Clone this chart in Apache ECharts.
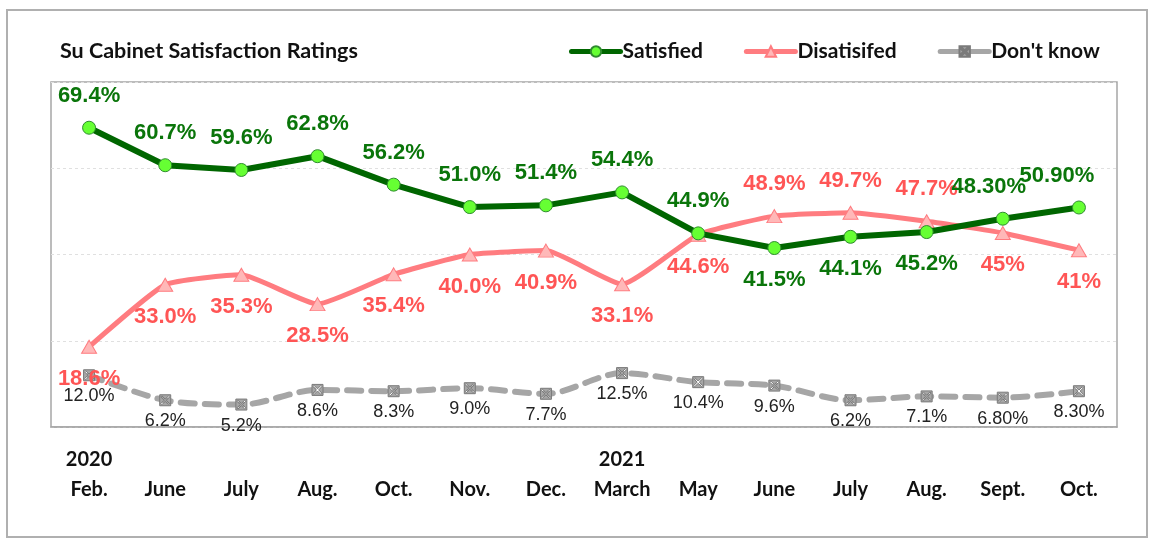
<!DOCTYPE html>
<html>
<head>
<meta charset="utf-8">
<script src="https://cdn.jsdelivr.net/npm/echarts@6/dist/echarts.min.js"></script>
<style>
html, body { margin: 0; padding: 0; background: #fff; }
#main { width: 1155px; height: 541px; }
</style>
</head>
<body>
<div id="main"></div>
<script>
// 数据
const months = ['Feb.', 'June', 'July', 'Aug.', 'Oct.', 'Nov.', 'Dec.', 'March', 'May', 'June', 'July', 'Aug.', 'Sept.', 'Oct.']
const years = ['2020', '', '', '', '', '', '', '2021', '', '', '', '', '', '']
const satisfied = [69.4, 60.7, 59.6, 62.8, 56.2, 51.0, 51.4, 54.4, 44.9, 41.5, 44.1, 45.2, 48.3, 50.9]
const satisfiedText = ['69.4%', '60.7%', '59.6%', '62.8%', '56.2%', '51.0%', '51.4%', '54.4%', '44.9%', '41.5%', '44.1%', '45.2%', '48.30%', '50.90%']
const dissatisfied = [18.6, 33.0, 35.3, 28.5, 35.4, 40.0, 40.9, 33.1, 44.6, 48.9, 49.7, 47.7, 45, 41]
const dissatisfiedText = ['18.6%', '33.0%', '35.3%', '28.5%', '35.4%', '40.0%', '40.9%', '33.1%', '44.6%', '48.9%', '49.7%', '47.7%', '45%', '41%']
const dontKnow = [12.0, 6.2, 5.2, 8.6, 8.3, 9.0, 7.7, 12.5, 10.4, 9.6, 6.2, 7.1, 6.8, 8.3]
const dontKnowText = ['12.0%', '6.2%', '5.2%', '8.6%', '8.3%', '9.0%', '7.7%', '12.5%', '10.4%', '9.6%', '6.2%', '7.1%', '6.80%', '8.30%']

// 标签位置（样式配置）
const satPos = ['top', 'top', 'top', 'top', 'top', 'top', 'top', 'top', 'top', 'bottom', 'bottom', 'bottom', 'top', 'top']
const satOffset = [0, 0, 0, 0, 0, 0, 0, 0, 0, 0, 0, 0, -14, -22]
const disPos = ['bottom', 'bottom', 'bottom', 'bottom', 'bottom', 'bottom', 'bottom', 'bottom', 'bottom', 'top', 'top', 'top', 'bottom', 'bottom']

const labelFont = 'Liberation Sans, Arial, sans-serif'
const uiFont = 'Lato, Noto Sans, sans-serif'

function build(values, texts, pos, offs) {
  return values.map((v, i) => ({
    value: v,
    label: {
      position: pos ? pos[i] : 'bottom',
      offset: [offs ? offs[i] : 0, 0],
      formatter: texts[i]
    }
  }))
}

const legendLine = { width: 5, cap: 'round', type: 'solid' }

const chart = echarts.init(document.getElementById('main'))
chart.setOption({
  animation: false,
  title: {
    text: 'Su Cabinet Satisfaction Ratings',
    left: 55,
    top: 35,
    textStyle: { fontFamily: uiFont, fontSize: 21.5, fontWeight: 'bold', color: '#111' }
  },
  legend: {
    left: 564,
    top: 36,
    itemWidth: 49,
    itemHeight: 13,
    itemGap: 41,
    textStyle: { fontFamily: uiFont, fontSize: 21, fontWeight: 'bold', color: '#111', padding: [0, 0, 0, -3] },
    data: [
      { name: 'Satisfied', lineStyle: legendLine },
      { name: 'Disatisifed', lineStyle: legendLine },
      { name: "Don't know", lineStyle: legendLine }
    ]
  },
  graphic: [{
    type: 'rect',
    shape: { x: 7, y: 10, width: 1140, height: 527 },
    style: { fill: 'none', stroke: '#b0b0b0', lineWidth: 2 },
    silent: true
  }],
  grid: {
    left: 51, top: 82, width: 1066, height: 345,
    show: true, borderColor: '#a6a6a6', borderWidth: 1.5
  },
  xAxis: {
    type: 'category',
    data: months,
    boundaryGap: true,
    axisLine: { lineStyle: { color: '#a6a6a6', width: 1.5 } },
    axisTick: { inside: true, length: 6, interval: 0, lineStyle: { color: '#a6a6a6' } },
    axisLabel: {
      interval: 0,
      hideOverlap: false,
      margin: 18,
      lineHeight: 30,
      fontFamily: uiFont,
      fontSize: 20,
      fontWeight: 'bold',
      color: '#111',
      formatter: (v, i) => (years[i] || ' ') + '\n' + v
    }
  },
  yAxis: {
    type: 'value',
    min: 0, max: 80, interval: 20,
    axisLine: { show: false },
    axisTick: { show: false },
    axisLabel: { show: false },
    splitLine: { lineStyle: { color: '#e0e0e0', type: [3, 3] } }
  },
  series: [{
    name: 'Satisfied',
    type: 'line',
    z: 4,
    data: build(satisfied, satisfiedText, satPos, satOffset),
    lineStyle: { color: '#006600', width: 6 },
    itemStyle: { color: '#66ff33', borderColor: '#2e8b2e', borderWidth: 1 },
    symbol: 'circle',
    symbolSize: 13,
    label: {
      show: true, distance: 14,
      fontFamily: labelFont, fontSize: 22, fontWeight: 'bold', color: '#0a750a'
    }
  }, {
    name: 'Disatisifed',
    type: 'line',
    z: 3,
    smooth: 0.15,
    data: build(dissatisfied, dissatisfiedText, disPos),
    lineStyle: { color: '#ff7c80', width: 5 },
    itemStyle: { color: '#ffb8b8', borderColor: '#ff7c80', borderWidth: 1 },
    symbol: 'triangle',
    symbolSize: [15, 13],
    label: {
      show: true, distance: 14,
      fontFamily: labelFont, fontSize: 22, fontWeight: 'bold', color: '#ff5555'
    }
  }, {
    name: "Don't know",
    type: 'line',
    z: 2,
    smooth: 0.3,
    data: build(dontKnow, dontKnowText),
    lineStyle: { color: '#a6a6a6', width: 6, type: [14, 10], cap: 'round' },
    itemStyle: { color: '#a6a6a6', borderColor: '#7a7a7a', borderWidth: 1 },
    symbol: 'path://M0,0H10V10H0Z M2,1L1,2L4,5L1,8L2,9L5,6L8,9L9,8L6,5L9,2L8,1L5,4Z',
    symbolSize: 11,
    label: {
      show: true, distance: 6,
      fontFamily: labelFont, fontSize: 18, color: '#222'
    }
  }]
})
</script>
</body>
</html>
